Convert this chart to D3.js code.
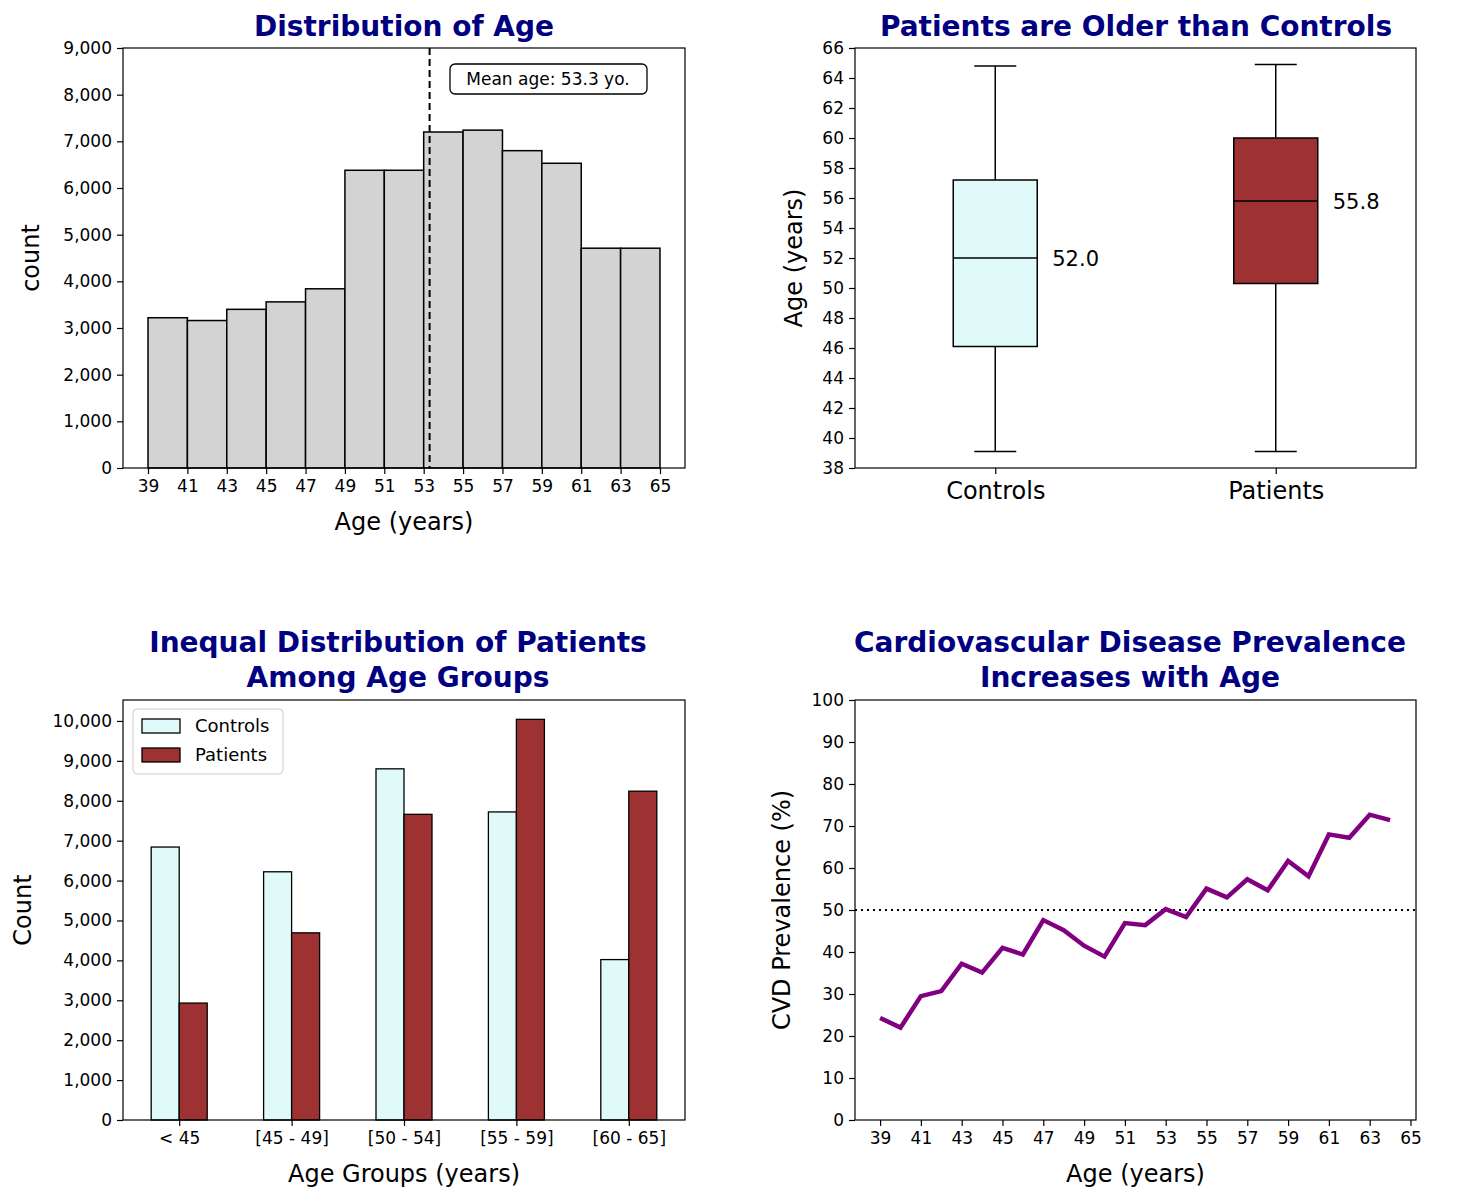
<!DOCTYPE html>
<html><head><meta charset="utf-8">
<script src="https://cdn.jsdelivr.net/npm/d3@7"></script>
<style>
body{margin:0;background:#fff;font-family:"DejaVu Sans",sans-serif;}
text{font-family:"DejaVu Sans",sans-serif;}
</style></head><body>
<svg id="c" width="1460" height="1201"></svg>
<script>
var histBins = [39,41,43,45,47,49,51,53,55,57,59,61,63];
var histCounts = [3220,3160,3400,3560,3840,6380,6380,7200,7240,6800,6530,4710,4710];
var meanAge = 53.3;
var ageTicks = d3.range(39, 66, 2);

var boxGroups = ['Controls', 'Patients'];
var boxStats = [
  {lo: 39.1, q1: 46.1, med: 52.0, q3: 57.2, hi: 64.8},
  {lo: 39.1, q1: 50.3, med: 55.8, q3: 60.0, hi: 64.9}
];
var boxColors = ['#e0fafa', '#9e3232'];

var ageGroups = ['< 45', '[45 - 49]', '[50 - 54]', '[55 - 59]', '[60 - 65]'];
var controlCounts = [6840, 6220, 8800, 7720, 4020];
var patientCounts = [2930, 4690, 7660, 10040, 8240];

var prevAges = d3.range(39, 65);
var prevValues = [24.3,22,29.5,30.7,37.2,35.1,41,39.4,47.6,45.2,41.5,38.9,46.9,46.4,50.2,48.3,55.1,53,57.3,54.7,61.7,58,68,67.2,72.7,71.4];

var svg = d3.select('#c');

function frame(g, w, h) {
  g.append('rect').attr('width', w).attr('height', h)
    .attr('fill', 'none').attr('stroke', '#000').attr('stroke-width', 1.2);
}
function styleAxis(sel, fs) {
  sel.selectAll('text').attr('font-size', fs).attr('fill', '#000');
  sel.selectAll('line').attr('stroke', '#000').attr('stroke-width', 1.2);
  sel.select('.domain').remove();
}
function title(lines, cx, y) {
  lines.forEach(function(t, i) {
    svg.append('text').attr('x', cx).attr('y', y + i * 35).attr('text-anchor', 'middle')
      .attr('font-size', 28).attr('font-weight', 'bold').attr('fill', '#000080').text(t);
  });
}
function ylabel(g, text, x, h) {
  g.append('text').attr('transform', 'translate(' + x + ',' + h / 2 + ') rotate(-90)')
    .attr('text-anchor', 'middle').attr('font-size', 24).text(text);
}

// Panel 1: histogram
(function() {
  var W = 562, H = 420;
  var g = svg.append('g').attr('transform', 'translate(123,48)');
  var x = d3.scaleLinear().domain([37.73, 66.27]).range([0, W]);
  var y = d3.scaleLinear().domain([0, 9000]).range([H, 0]);
  g.selectAll('rect.b').data(histBins).enter().append('rect')
    .attr('x', function(d) { return x(d); })
    .attr('width', function(d) { return x(d + 2) - x(d); })
    .attr('y', function(d, i) { return y(histCounts[i]); })
    .attr('height', function(d, i) { return H - y(histCounts[i]); })
    .attr('fill', '#d3d3d3').attr('stroke', '#000').attr('stroke-width', 1.5);
  g.append('line').attr('x1', x(meanAge)).attr('x2', x(meanAge)).attr('y1', 0).attr('y2', H)
    .attr('stroke', '#000').attr('stroke-width', 2).attr('stroke-dasharray', '7,4');
  g.append('rect').attr('x', 327).attr('y', 16).attr('width', 197).attr('height', 30).attr('rx', 5)
    .attr('fill', '#fff').attr('stroke', '#000').attr('stroke-width', 1.3);
  g.append('text').attr('x', 425).attr('y', 37).attr('text-anchor', 'middle').attr('font-size', 17)
    .text('Mean age: ' + meanAge + ' yo.');
  g.append('g').attr('transform', 'translate(0,' + H + ')')
    .call(d3.axisBottom(x).tickValues(ageTicks).tickSize(6).tickPadding(6)).call(styleAxis, 17);
  g.append('g').call(d3.axisLeft(y).ticks(9).tickSize(6).tickPadding(5)).call(styleAxis, 17);
  frame(g, W, H);
  g.append('text').attr('x', W / 2).attr('y', H + 62).attr('text-anchor', 'middle').attr('font-size', 24).text('Age (years)');
  ylabel(g, 'count', -84, H);
  title(['Distribution of Age'], 404, 36);
})();

// Panel 2: boxplot
(function() {
  var W = 561, H = 420;
  var g = svg.append('g').attr('transform', 'translate(855,48)');
  var x = d3.scalePoint().domain(boxGroups).range([0, W]).padding(0.5);
  var y = d3.scaleLinear().domain([38, 66]).range([H, 0]);
  var bw = 84, cw = 42;
  boxGroups.forEach(function(name, i) {
    var s = boxStats[i], cx = x(name);
    [[s.lo, s.q1], [s.q3, s.hi]].forEach(function(p) {
      g.append('line').attr('x1', cx).attr('x2', cx).attr('y1', y(p[0])).attr('y2', y(p[1])).attr('stroke', '#000').attr('stroke-width', 1.5);
    });
    [s.lo, s.hi].forEach(function(v) {
      g.append('line').attr('x1', cx - cw / 2).attr('x2', cx + cw / 2).attr('y1', y(v)).attr('y2', y(v)).attr('stroke', '#000').attr('stroke-width', 1.5);
    });
    g.append('rect').attr('x', cx - bw / 2).attr('width', bw).attr('y', y(s.q3)).attr('height', y(s.q1) - y(s.q3))
      .attr('fill', boxColors[i]).attr('stroke', '#000').attr('stroke-width', 1.5);
    g.append('line').attr('x1', cx - bw / 2).attr('x2', cx + bw / 2).attr('y1', y(s.med)).attr('y2', y(s.med)).attr('stroke', '#000').attr('stroke-width', 1.5);
    g.append('text').attr('x', cx + bw / 2 + 15).attr('y', y(s.med) + 8).attr('font-size', 21).text(s.med.toFixed(1));
  });
  g.append('g').attr('transform', 'translate(0,' + H + ')')
    .call(d3.axisBottom(x).tickSize(6).tickPadding(8)).call(styleAxis, 24);
  g.append('g').call(d3.axisLeft(y).tickValues(d3.range(38, 67, 2)).tickSize(6).tickPadding(5)).call(styleAxis, 17);
  frame(g, W, H);
  ylabel(g, 'Age (years)', -53, H);
  title(['Patients are Older than Controls'], 1136, 36);
})();

// Panel 3: grouped bars
(function() {
  var W = 562, H = 420;
  var g = svg.append('g').attr('transform', 'translate(123,700)');
  var x = d3.scalePoint().domain(ageGroups).range([0, W]).padding(0.5);
  var y = d3.scaleLinear().domain([0, 10525]).range([H, 0]);
  var bw = 28;
  g.selectAll('rect.c').data(controlCounts).enter().append('rect')
    .attr('x', function(d, i) { return x(ageGroups[i]) - bw; }).attr('width', bw)
    .attr('y', function(d) { return y(d); }).attr('height', function(d) { return H - y(d); })
    .attr('fill', boxColors[0]).attr('stroke', '#000').attr('stroke-width', 1.3);
  g.selectAll('rect.p').data(patientCounts).enter().append('rect')
    .attr('x', function(d, i) { return x(ageGroups[i]); }).attr('width', bw)
    .attr('y', function(d) { return y(d); }).attr('height', function(d) { return H - y(d); })
    .attr('fill', boxColors[1]).attr('stroke', '#000').attr('stroke-width', 1.3);
  g.append('g').attr('transform', 'translate(0,' + H + ')')
    .call(d3.axisBottom(x).tickSize(6).tickPadding(6)).call(styleAxis, 17);
  g.append('g').call(d3.axisLeft(y).tickValues(d3.range(0, 10001, 1000)).tickSize(6).tickPadding(5)).call(styleAxis, 17);
  frame(g, W, H);
  var lg = g.append('g').attr('transform', 'translate(10,9)');
  lg.append('rect').attr('width', 150).attr('height', 65).attr('rx', 4).attr('fill', '#fff').attr('stroke', '#ccc');
  ['Controls', 'Patients'].forEach(function(n, i) {
    lg.append('rect').attr('x', 9).attr('y', 10 + i * 29).attr('width', 38).attr('height', 14)
      .attr('fill', boxColors[i]).attr('stroke', '#000').attr('stroke-width', 1.3);
    lg.append('text').attr('x', 62).attr('y', 23 + i * 29).attr('font-size', 18).text(n);
  });
  g.append('text').attr('x', W / 2).attr('y', H + 62).attr('text-anchor', 'middle').attr('font-size', 24).text('Age Groups (years)');
  ylabel(g, 'Count', -92, H);
  title(['Inequal Distribution of Patients', 'Among Age Groups'], 398, 652);
})();

// Panel 4: line
(function() {
  var W = 561, H = 420;
  var g = svg.append('g').attr('transform', 'translate(855,700)');
  var x = d3.scaleLinear().domain([37.77, 65.27]).range([0, W]);
  var y = d3.scaleLinear().domain([0, 100]).range([H, 0]);
  g.append('line').attr('x1', 0).attr('x2', W).attr('y1', y(50)).attr('y2', y(50))
    .attr('stroke', '#000').attr('stroke-width', 2).attr('stroke-dasharray', '2,4');
  g.append('path').datum(prevValues)
    .attr('d', d3.line().x(function(d, i) { return x(prevAges[i]); }).y(function(d) { return y(d); }))
    .attr('fill', 'none').attr('stroke', '#800080').attr('stroke-width', 4.5);
  g.append('g').attr('transform', 'translate(0,' + H + ')')
    .call(d3.axisBottom(x).tickValues(ageTicks).tickSize(6).tickPadding(6)).call(styleAxis, 17);
  g.append('g').call(d3.axisLeft(y).ticks(10).tickSize(6).tickPadding(5)).call(styleAxis, 17);
  frame(g, W, H);
  g.append('text').attr('x', W / 2).attr('y', H + 62).attr('text-anchor', 'middle').attr('font-size', 24).text('Age (years)');
  ylabel(g, 'CVD Prevalence (%)', -65, H);
  title(['Cardiovascular Disease Prevalence', 'Increases with Age'], 1130, 652);
})();
</script>
</body></html>
